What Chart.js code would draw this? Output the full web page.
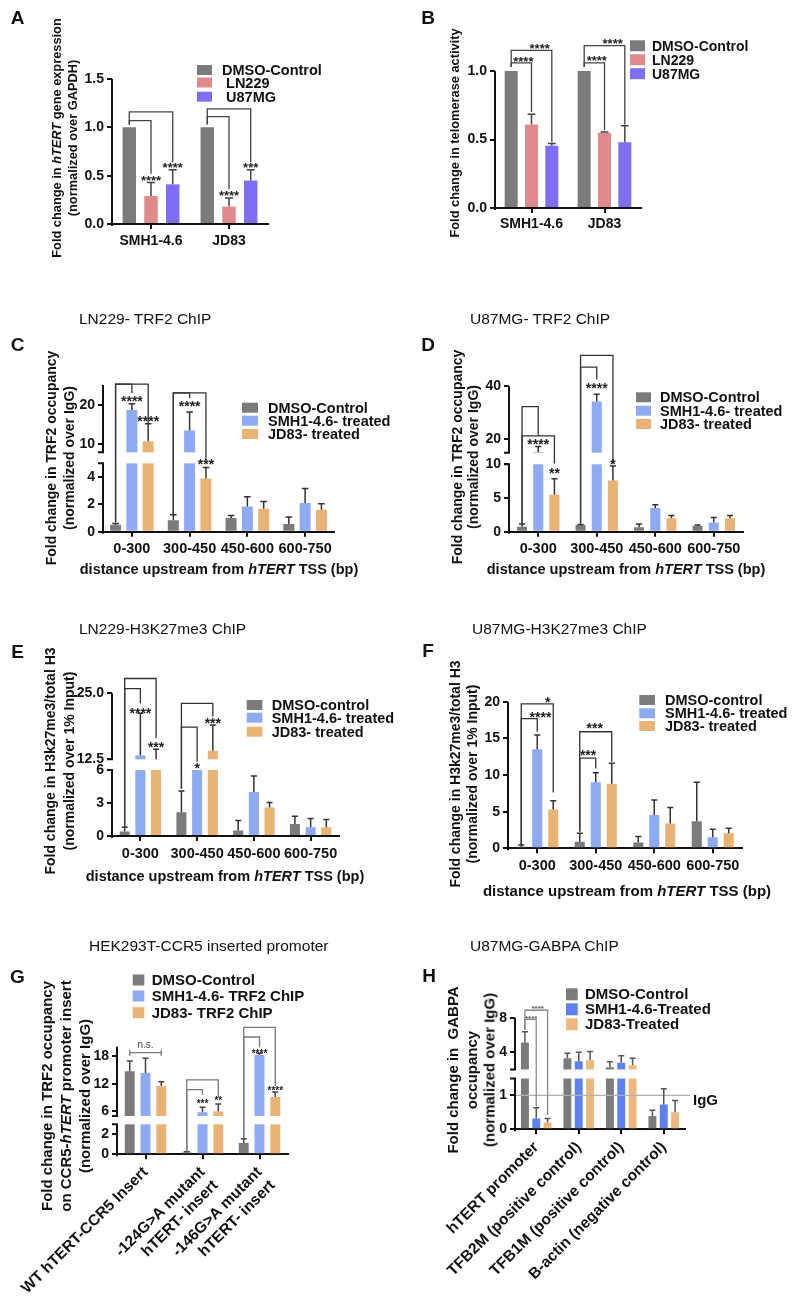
<!DOCTYPE html>
<html lang="en">
<head>
<meta charset="utf-8">
<title>hTERT figure</title>
<script src="https://cdn.jsdelivr.net/npm/chart.js@4.4.1/dist/chart.umd.min.js"></script>
<style>
  body { margin: 0; background: #fff; }
  #fig { position: relative; width: 800px; height: 1306px; overflow: hidden;
         font-family: 'Liberation Sans', Arial, sans-serif; color: #111; }
  #fig canvas { position: absolute; left: 0; top: 0; }
  .t { position: absolute; white-space: nowrap; line-height: 1; }
</style>
</head>
<body>
<div id="fig"></div>
<script>
var FONT = "'Liberation Sans', Arial, sans-serif";

// ---- A: hTERT expression
var aCats = ['SMH1-4.6', 'JD83'];
var aNames = ['DMSO-Control', ' LN229', ' U87MG'];
var aDmso = [1.0, 1.0];
var aLn229 = [0.29, 0.18];
var aU87 = [0.41, 0.45];
var aDmsoErr = [0, 0];
var aLn229Err = [0.14, 0.09];
var aU87Err = [0.15, 0.11];
var aTicks = [0, 0.5, 1, 1.5];
var aTickLabels = ['0.0', '0.5', '1.0', '1.5'];
var aBrackets = [[0, 0, 2, 1.16, 1.03, 0.64], [0, 0, 1, 1.07, 1.03, 0.52], [1, 0, 2, 1.19, 1.03, 0.64], [1, 0, 1, 1.11, 1.03, 0.36]];
var aStars = [[0, 1, 0.47, '****'], [0, 2, 0.60, '****'], [1, 1, 0.31, '****'], [1, 2, 0.60, '***']];

// ---- B: telomerase activity
var bCats = ['SMH1-4.6', 'JD83'];
var bNames = ['DMSO-Control', 'LN229', 'U87MG'];
var bDmso = [1.0, 1.0];
var bLn229 = [0.61, 0.55];
var bU87 = [0.455, 0.48];
var bDmsoErr = [0, 0];
var bLn229Err = [0.075, 0.005];
var bU87Err = [0.015, 0.12];
var bTicks = [0, 0.5, 1];
var bTickLabels = ['0.0', '0.5', '1.0'];
var bBrackets = [[0, 0, 1, 1.06, 1.03, 0.70], [0, 0, 2, 1.15, 1.03, 0.48], [1, 0, 1, 1.06, 1.03, 0.57], [1, 0, 2, 1.185, 1.03, 0.61]];
var bStars = [[0, 0.6, 1.08, '****'], [0, 1.4, 1.18, '****'], [1, 0.62, 1.09, '****'], [1, 1.4, 1.21, '****']];

// ---- C: LN229 TRF2 ChIP
var distCats = ['0-300', '300-450', '450-600', '600-750'];
var trfNames = ['DMSO-Control', 'SMH1-4.6- treated', 'JD83- treated'];
var cDmso = [0.5, 0.84, 1.0, 0.57];
var cSmh = [18.7, 13.5, 1.85, 2.1];
var cJd = [10.8, 3.9, 1.68, 1.6];
var cDmsoErr = [0.1, 0.4, 0.18, 0.5];
var cSmhErr = [1.55, 4.7, 0.7, 1.06];
var cJdErr = [4.4, 0.8, 0.52, 0.45];
var cTicks = [0, 2, 4, 10, 20];
var cTickLabels = ['0', '2', '4', '10', '20'];
var cBrackets = [[0, 0, 1, 25.2, 0.7, 23.0], [0, 0, 2, 25.2, 0.7, 15.3], [1, 0, 1, 23.0, 1.3, 21.7], [1, 0, 2, 23.0, 1.3, 5.85]];
var cStars = [[0, 1, 21.5, '****'], [0, 2, 16.4, '****'], [1, 1, 20.2, '****'], [1, 2, 5.3, '***']];

// ---- D: U87MG TRF2 ChIP
var dDmso = [0.75, 1.0, 0.65, 0.85];
var dSmh = [15.3, 34.2, 3.5, 1.35];
var dJd = [5.5, 7.6, 2.0, 2.0];
var dDmsoErr = [0.4, 0.05, 0.5, 0.15];
var dSmhErr = [2.0, 2.7, 0.5, 0.75];
var dJdErr = [2.35, 2.15, 0.4, 0.4];
var dTicks = [0, 5, 10, 20, 40];
var dTickLabels = ['0', '5', '10', '20', '40'];
var dBrackets = [[0, 0, 1, 32.3, 1.2, 21.3], [0, 0, 2, 21.3, 1.2, 10.3], [1, 0, 2, 51.5, 1.2, 10.4], [1, 0, 1, 47.1, 1.2, 42.5]];
var dStars = [[0, 1, 19.0, '****'], [0, 2, 9.0, '**'], [1, 1, 39.8, '****'], [1, 2, 10.9, '*']];

// ---- E: LN229 H3K27me3 ChIP
var h3Names = ['DMSO-control', 'SMH1-4.6- treated', 'JD83- treated'];
var eDmso = [0.4, 2.15, 0.5, 1.1];
var eSmh = [13.2, 6.0, 4.0, 0.8];
var eJd = [12.5, 14.1, 2.6, 0.8];
var eDmsoErr = [0.4, 1.95, 0.9, 0.7];
var eSmhErr = [8.0, 0, 1.45, 0.8];
var eJdErr = [1.9, 4.9, 0.45, 0.7];
var eTicks = [0, 3, 6, 12.5, 25];
var eTickLabels = ['0', '3', '6', '12.5', '25.0'];
var eBrackets = [[0, 0, 2, 27.8, 0.85, 16.5], [0, 0, 1, 25.9, 0.85, 23.1], [1, 0, 2, 23.1, 4.3, 20.6], [1, 0, 1, 18.6, 4.3, 11.0]];
var eStars = [[0, 1, 21.6, '****'], [0, 2, 15.2, '***'], [1, 1, 8.0, '*'], [1, 2, 19.6, '***']];

// ---- F: U87MG H3K27me3 ChIP
var fDmso = [0.2, 0.9, 0.8, 3.7];
var fSmh = [13.5, 9.0, 4.55, 1.5];
var fJd = [5.3, 8.8, 3.4, 2.05];
var fDmsoErr = [0.25, 1.15, 0.8, 5.3];
var fSmhErr = [1.95, 1.3, 2.05, 1.1];
var fJdErr = [1.2, 2.8, 2.15, 0.7];
var fTicks = [0, 5, 10, 15, 20];
var fTickLabels = ['0', '5', '10', '15', '20'];
var fBrackets = [[0, 0, 2, 19.7, 0.5, 7.6], [0, 0, 1, 17.7, 0.5, 15.9], [1, 0, 2, 15.9, 2.3, 11.8], [1, 0, 1, 12.3, 2.3, 10.9]];
var fStars = [[0, 1.2, 18.2, '****'], [0, 1.65, 20.2, '*'], [1, 0.52, 13.0, '***'], [1, 0.94, 16.6, '***']];

// ---- G: HEK293T CCR5 insert
var gCats = ['WT hTERT-CCR5 Insert', ['-124G>A mutant', 'hTERT- insert'], ['-146G>A mutant', 'hTERT- insert']];
var gNames = ['DMSO-Control', 'SMH1-4.6- TRF2 ChIP', 'JD83- TRF2 ChIP'];
var gDmso = [14.7, 0.17, 1.14];
var gSmh = [14.3, 5.8, 18.2];
var gJd = [11.5, 6.0, 9.1];
var gDmsoErr = [2.2, 0.08, 0.41];
var gSmhErr = [3.2, 1.1, 0.4];
var gJdErr = [0.9, 1.6, 1.1];
var gTicks = [0, 2, 6, 12, 18];
var gTickLabels = ['0', '2', '6', '12', '18'];
var gBrackets = [[0, 0, 2, 18.7, 'ns'], [1, 0, 2, 12.8, 0.3, 9.1], [1, 0, 1, 10.7, 0.3, 9.6], [2, 0, 2, 24.2, 1.6, 11.5], [2, 0, 1, 22.1, 1.6, 20.0]];
var gStars = [[0, 1, 20.3, 'n.s.'], [1, 1, 8.0, '***'], [1, 2, 8.6, '**'], [2, 1, 18.9, '****'], [2, 2, 10.8, '****']];

// ---- H: U87MG GABPA ChIP
var hCats = ['hTERT promoter', 'TFB2M (positive control)', 'TFB1M (positive control)', 'B-actin (negative control)'];
var hNames = ['DMSO-Control', 'SMH1-4.6-Treated', 'JD83-Treated'];
var hDmso = [5.15, 3.3, 2.25, 0.39];
var hSmh = [0.32, 2.95, 2.8, 0.73];
var hJd = [0.2, 3.1, 2.5, 0.5];
var hDmsoErr = [1.25, 0.6, 0.65, 0.17];
var hSmhErr = [0.32, 1.05, 0.8, 0.47];
var hJdErr = [0.12, 1.0, 0.8, 0.35];
var hTicks = [0, 1, 4, 8];
var hTickLabels = ['0', '1', '4', '8'];
var hBrackets = [[0, 0, 2, 8.9, 6.6, 0.42], [0, 0, 1, 7.85, 6.6, 0.68]];
var hStars = [[0, 1.13, 9.3, '****'], [0, 0.55, 8.1, '****']];
var hIgG = 1;

var GRAY = '#7b7b7b', PINK = '#df8b8b', PURPLE = '#7d6ef4';
var BLUE = '#8eaaf1', ORANGE = '#e8b374', BLUE2 = '#5d82f0', ORANGE2 = '#ecb87e';

// linear scale with an optional break: lower part, white gap, upper part
class BrokenScale extends Chart.LinearScale {
  buildTicks() {
    return this.chart.canvas.panel.ticks.map(function (v) { return { value: v }; });
  }
  getPixelForValue(v) {
    var p = this.chart.canvas.panel;
    var bot = this.bottom, H = this.bottom - this.top;
    if (!p.brk) return bot - (v - p.min) / (p.max - p.min) * H;
    var lo = p.brk[0], hi = p.brk[1];
    var lowH = H * p.lowFrac, upH = H - lowH - p.gap;
    if (v <= lo) return bot - (v - p.min) / (lo - p.min) * lowH;
    if (v < hi) return bot - lowH - (v - lo) / (hi - lo) * p.gap;
    return bot - lowH - p.gap - (v - hi) / (p.max - hi) * upH;
  }
  getValueForPixel(px) {
    var p = this.chart.canvas.panel;
    return p.min + (this.bottom - px) / (this.bottom - this.top) * (p.max - p.min);
  }
}
BrokenScale.id = 'broken';
BrokenScale.defaults = {};
Chart.register(BrokenScale);

var extras = {
  id: 'extras',
  afterDatasetsDraw: function (chart) {
    var p = chart.canvas.panel, ctx = chart.ctx, ys = chart.scales.y, a = chart.chartArea;
    var Y = function (v) { return ys.getPixelForValue(v); };
    var barX = function (cat, f) {
      var i0 = Math.floor(f), i1 = Math.ceil(f);
      var x0 = chart.getDatasetMeta(i0).data[cat].x, x1 = chart.getDatasetMeta(i1).data[cat].x;
      return x0 + (x1 - x0) * (f - i0);
    };
    ctx.save();

    // white band where the axis is broken
    if (p.brk) {
      var gt = Y(p.brk[1]), gb = Y(p.brk[0]);
      ctx.fillStyle = '#fff';
      ctx.fillRect(a.left + 2, gt, a.right - a.left, gb - gt);
    }

    // IgG reference line
    if (p.igg) {
      ctx.strokeStyle = '#b0b0b0'; ctx.lineWidth = 1.2;
      ctx.beginPath(); ctx.moveTo(a.left, Y(p.igg.v)); ctx.lineTo(p.igg.x2, Y(p.igg.v)); ctx.stroke();
      ctx.fillStyle = '#111'; ctx.font = 'bold 15px ' + FONT;
      ctx.textAlign = 'left'; ctx.textBaseline = 'middle';
      ctx.fillText(p.igg.label, p.igg.lx, p.igg.ly);
    }

    // error bars (upper only)
    ctx.strokeStyle = p.errColor; ctx.lineWidth = 1.5;
    p.errs.forEach(function (errs, i) {
      var meta = chart.getDatasetMeta(i);
      errs.forEach(function (e, j) {
        if (!e) return;
        var bar = meta.data[j], v = p.series[i][j];
        var y0 = Y(v), y1 = Y(v + e), h = Math.max(3, bar.width * 0.3);
        ctx.beginPath();
        ctx.moveTo(bar.x, y0); ctx.lineTo(bar.x, y1);
        ctx.moveTo(bar.x - h, y1); ctx.lineTo(bar.x + h, y1);
        ctx.stroke();
      });
    });

    // y axis line, with break caps
    ctx.strokeStyle = '#111'; ctx.lineWidth = 2;
    var ax = a.left;
    ctx.beginPath();
    if (p.brk) {
      var pl = Y(p.brk[0]), ph = Y(p.brk[1]);
      ctx.moveTo(ax, a.bottom + 2); ctx.lineTo(ax, pl);
      ctx.moveTo(ax - 5, pl); ctx.lineTo(ax + 1, pl);
      ctx.moveTo(ax - 5, ph); ctx.lineTo(ax + 1, ph);
      ctx.moveTo(ax, ph); ctx.lineTo(ax, a.top);
    } else {
      ctx.moveTo(ax, a.bottom + 2); ctx.lineTo(ax, a.top);
    }
    ctx.stroke();

    // significance brackets
    ctx.strokeStyle = p.brColor; ctx.lineWidth = 1.3;
    p.brackets.forEach(function (b) {
      var xa = barX(b[0], b[1]), xb = barX(b[0], b[2]), yl = Y(b[3]);
      ctx.beginPath();
      if (b[4] === 'ns') {
        ctx.moveTo(xa, yl); ctx.lineTo(xb, yl);
        ctx.moveTo(xa, yl - 3); ctx.lineTo(xa, yl + 3);
        ctx.moveTo(xb, yl - 3); ctx.lineTo(xb, yl + 3);
      } else {
        ctx.moveTo(xa, Y(b[4])); ctx.lineTo(xa, yl); ctx.lineTo(xb, yl); ctx.lineTo(xb, Y(b[5]));
      }
      ctx.stroke();
    });

    // stars
    ctx.fillStyle = p.starColor; ctx.textAlign = 'center'; ctx.textBaseline = 'middle';
    p.stars.forEach(function (s) {
      var x = barX(s[0], s[1]), y = Y(s[2]);
      if (s[3] === 'n.s.') {
        ctx.font = '10px ' + FONT; ctx.fillStyle = '#444';
        ctx.fillText(s[3], x, y);
        ctx.fillStyle = p.starColor;
      } else {
        ctx.font = 'bold ' + p.starFont + 'px ' + FONT;
        ctx.fillText(s[3], x, y + 0.2 * p.starFont);
      }
    });

    // legend
    var L = p.legend;
    ctx.textAlign = 'left'; ctx.textBaseline = 'middle';
    ctx.font = 'bold ' + L.font + 'px ' + FONT;
    p.names.forEach(function (n, i) {
      ctx.fillStyle = p.colors[i];
      ctx.fillRect(L.x, L.ys[i] - L.h / 2, L.w, L.h);
      ctx.fillStyle = '#111';
      ctx.fillText(n, L.tx, L.ys[i] + 1);
    });
    ctx.restore();
  }
};

var fig = document.getElementById('fig');

function panel(p) {
  var cv = document.createElement('canvas');
  cv.width = 800; cv.height = 1306;
  cv.panel = p;
  fig.appendChild(cv);
  var tickGrid = { display: true, drawOnChartArea: false, drawTicks: true, tickLength: 5,
                   tickWidth: 2, tickColor: '#111', color: '#111', lineWidth: 2 };
  new Chart(cv, {
    type: 'bar',
    data: {
      labels: p.cats,
      datasets: p.series.map(function (s, i) {
        return { label: p.names[i], data: s, backgroundColor: p.colors[i], borderWidth: 0,
                 categoryPercentage: p.catPct, barPercentage: p.barPct };
      })
    },
    options: {
      responsive: false, animation: false, events: [],
      layout: { padding: { left: 0, right: 800 - p.right, top: p.top, bottom: 0 } },
      plugins: { legend: { display: false }, tooltip: { enabled: false } },
      scales: {
        x: {
          type: 'category', offset: true,
          border: { display: true, color: '#111', width: 2 },
          grid: Object.assign({ offset: false }, tickGrid),
          ticks: { color: '#111', autoSkip: false, maxRotation: p.rot, minRotation: p.rot,
                   padding: p.xPad, font: { family: FONT, size: p.xFont, weight: 'bold' } },
          afterFit: function (s) { s.height = 1306 - p.bottom; }
        },
        y: {
          type: 'broken', min: p.min, max: p.max,
          border: { display: false },
          grid: tickGrid,
          ticks: { color: '#111', autoSkip: false, padding: 3,
                   font: { family: FONT, size: 14, weight: 'bold' },
                   callback: function (v, i) { return p.tickLabels[i]; } },
          afterFit: function (s) { s.width = p.left; }
        }
      }
    },
    plugins: [extras]
  });
}

function txt(html, x, y, size, bold, mode) {
  var d = document.createElement('div');
  d.className = 't';
  d.innerHTML = html;
  d.style.left = x + 'px'; d.style.top = y + 'px';
  d.style.fontSize = size + 'px';
  d.style.fontWeight = bold ? 'bold' : 'normal';
  if (mode === 'rot') d.style.transform = 'translate(-50%,-50%) rotate(-90deg)';
  else if (mode === 'left') d.style.transform = 'translate(0,-50%)';
  else d.style.transform = 'translate(-50%,-50%)';
  fig.appendChild(d);
}

function yTitle(lines, xs, cy, size) {
  lines.forEach(function (l, i) { txt(l, xs[i], cy, size, true, 'rot'); });
}

panel({ cats: aCats, names: aNames, series: [aDmso, aLn229, aU87], errs: [aDmsoErr, aLn229Err, aU87Err],
  colors: [GRAY, PINK, PURPLE], left: 112, right: 268, top: 79, bottom: 224, min: 0, max: 1.5,
  ticks: aTicks, tickLabels: aTickLabels, catPct: 0.835, barPct: 0.62, rot: 0, xFont: 14, xPad: 4,
  brackets: aBrackets, stars: aStars, brColor: '#444', errColor: '#444', starFont: 13, starColor: '#222',
  legend: { x: 197, w: 15, h: 10, ys: [70, 82.5, 96.7], tx: 222, font: 14.5 } });

panel({ cats: bCats, names: bNames, series: [bDmso, bLn229, bU87], errs: [bDmsoErr, bLn229Err, bU87Err],
  colors: [GRAY, PINK, PURPLE], left: 495, right: 641, top: 71, bottom: 208, min: 0, max: 1,
  ticks: bTicks, tickLabels: bTickLabels, catPct: 0.835, barPct: 0.64, rot: 0, xFont: 14, xPad: 3,
  brackets: bBrackets, stars: bStars, brColor: '#444', errColor: '#444', starFont: 13, starColor: '#222',
  legend: { x: 630, w: 15, h: 11, ys: [45.8, 59.7, 73.7], tx: 652, font: 14 } });

panel({ cats: distCats, names: trfNames, series: [cDmso, cSmh, cJd], errs: [cDmsoErr, cSmhErr, cJdErr],
  colors: [GRAY, BLUE, ORANGE], left: 103, right: 334, top: 385, bottom: 531.7, min: 0, max: 25,
  brk: [5, 8], lowFrac: 0.466, gap: 11,
  ticks: cTicks, tickLabels: cTickLabels, catPct: 0.847, barPct: 0.675, rot: 0, xFont: 14.5, xPad: 4,
  brackets: cBrackets, stars: cStars, brColor: '#333', errColor: '#333', starFont: 14, starColor: '#222',
  legend: { x: 242, w: 16, h: 10, ys: [407.7, 420.7, 434], tx: 268, font: 14.5 } });

panel({ cats: distCats, names: trfNames, series: [dDmso, dSmh, dJd], errs: [dDmsoErr, dSmhErr, dJdErr],
  colors: [GRAY, BLUE, ORANGE], left: 509, right: 743, top: 386, bottom: 531.7, min: 0, max: 40,
  brk: [10, 15], lowFrac: 0.4626, gap: 11.6,
  ticks: dTicks, tickLabels: dTickLabels, catPct: 0.83, barPct: 0.62, rot: 0, xFont: 14.5, xPad: 4,
  brackets: dBrackets, stars: dStars, brColor: '#333', errColor: '#333', starFont: 14, starColor: '#222',
  legend: { x: 636, w: 15, h: 10, ys: [397.3, 410.7, 424], tx: 660, font: 14.5 } });

panel({ cats: distCats, names: h3Names, series: [eDmso, eSmh, eJd], errs: [eDmsoErr, eSmhErr, eJdErr],
  colors: [GRAY, BLUE, ORANGE], left: 112, right: 339, top: 693.3, bottom: 836, min: 0, max: 25,
  brk: [6, 12.5], lowFrac: 0.4625, gap: 10.7,
  ticks: eTicks, tickLabels: eTickLabels, catPct: 0.83, barPct: 0.64, rot: 0, xFont: 14.5, xPad: 4,
  brackets: eBrackets, stars: eStars, brColor: '#333', errColor: '#333', starFont: 14, starColor: '#222',
  legend: { x: 246.7, w: 15.6, h: 10, ys: [705, 717.7, 731.7], tx: 271.7, font: 14.5 } });

panel({ cats: distCats, names: h3Names, series: [fDmso, fSmh, fJd], errs: [fDmsoErr, fSmhErr, fJdErr],
  colors: [GRAY, BLUE, ORANGE], left: 508, right: 742, top: 701.7, bottom: 848.3, min: 0, max: 20,
  ticks: fTicks, tickLabels: fTickLabels, catPct: 0.82, barPct: 0.63, rot: 0, xFont: 14.5, xPad: 4,
  brackets: fBrackets, stars: fStars, brColor: '#333', errColor: '#333', starFont: 14, starColor: '#222',
  legend: { x: 639.3, w: 15.7, h: 10, ys: [700, 713.3, 726], tx: 665, font: 14.5 } });

panel({ cats: gCats, names: gNames, series: [gDmso, gSmh, gJd], errs: [gDmsoErr, gSmhErr, gJdErr],
  colors: [GRAY, BLUE, ORANGE], left: 117, right: 288, top: 1046.7, bottom: 1154.3, min: 0, max: 20,
  brk: [3, 5], lowFrac: 0.2788, gap: 8.3,
  ticks: gTicks, tickLabels: gTickLabels, catPct: 0.83, barPct: 0.63, rot: 45, xFont: 15.5, xPad: 4,
  brackets: gBrackets, stars: gStars, brColor: '#777', errColor: '#444', starFont: 10, starColor: '#222',
  legend: { x: 132.7, w: 11.6, h: 11, ys: [980, 996, 1012.7], tx: 151.7, font: 15 } });

panel({ cats: hCats, names: hNames, series: [hDmso, hSmh, hJd], errs: [hDmsoErr, hSmhErr, hJdErr],
  colors: [GRAY, BLUE2, ORANGE2], left: 515, right: 685, top: 1018, bottom: 1129.3, min: 0, max: 8,
  brk: [1.5, 2], lowFrac: 0.4564, gap: 9,
  ticks: hTicks, tickLabels: hTickLabels, catPct: 0.8, barPct: 0.7, rot: 45, xFont: 15.5, xPad: 4,
  brackets: hBrackets, stars: hStars, brColor: '#888', errColor: '#555', starFont: 8, starColor: '#555',
  igg: { v: hIgG, x2: 690, label: 'IgG', lx: 693, ly: 1100.7 },
  legend: { x: 566, w: 11.7, h: 12, ys: [994.3, 1009.3, 1024.3], tx: 585, font: 15 } });

// panel letters
[['A', 17.5, 17], ['B', 428, 17], ['C', 17.5, 344], ['D', 428, 344],
 ['E', 17.5, 651], ['F', 428, 650], ['G', 17.5, 975.5], ['H', 429, 975]].forEach(function (l) {
  txt(l[0], l[1], l[2], 19, true, 'c');
});

// panel headings
txt('LN229- TRF2 ChIP', 79, 319, 15.5, false, 'left');
txt('U87MG- TRF2 ChIP', 470, 319, 15.5, false, 'left');
txt('LN229-H3K27me3 ChIP', 79, 629, 15.5, false, 'left');
txt('U87MG-H3K27me3 ChIP', 472, 629, 15.5, false, 'left');
txt('HEK293T-CCR5 inserted promoter', 89, 946, 15.5, false, 'left');
txt('U87MG-GABPA ChIP', 470, 946, 15.5, false, 'left');

// axis titles
var occ = ['Fold change in TRF2 occupancy', '(normalized over IgG)'];
var h3t = ['Fold change in H3k27me3/total H3', '(normalized over 1% Input)'];
yTitle(['Fold change in <i>hTERT</i> gene expression', '(normalized over GAPDH)'], [57, 73], 138, 12.8);
yTitle(['Fold change in telomerase activity'], [455], 133, 12.8);
yTitle(occ, [51, 69], 458, 14);
yTitle(occ, [457, 473], 457, 14);
yTitle(h3t, [50, 69], 761, 14);
yTitle(h3t, [455, 472], 774, 14);
yTitle(['Fold change in TRF2 occupancy', 'on CCR5-<i>hTERT</i> promoter insert', '(normalized over IgG)'], [46, 65, 84], 1096, 15);
yTitle(['Fold change in&nbsp; GABPA', 'occupancy', '(normalized over IgG)'], [452, 471, 489], 1070, 15);

var dist = 'distance upstream from <i>hTERT</i> TSS (bp)';
txt(dist, 219, 569, 14.5, true, 'c');
txt(dist, 626, 569, 14.5, true, 'c');
txt(dist, 225, 876, 14.5, true, 'c');
txt(dist, 627, 890, 15, true, 'c');
</script>
</body>
</html>
